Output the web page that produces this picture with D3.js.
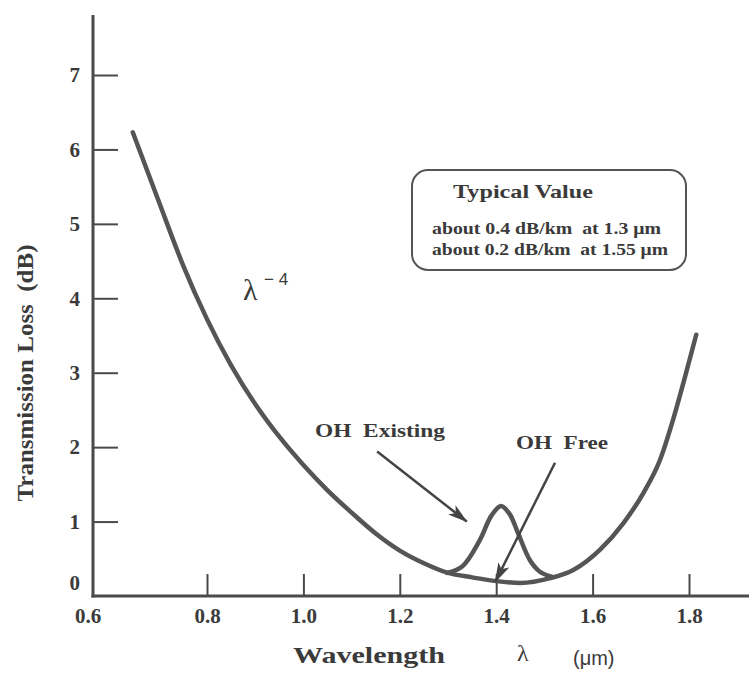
<!DOCTYPE html>
<html>
<head>
<meta charset="utf-8">
<script src="https://cdn.jsdelivr.net/npm/d3@7"></script>
<style>
  body { margin: 0; background: #fff; }
  text { font-family: "Liberation Serif", "DejaVu Serif", serif; fill: #3a3a3a; white-space: pre; }
  text.sans { font-family: "Liberation Sans", Arial, sans-serif; }
</style>
</head>
<body>
<script>
// OH free loss curve (wavelength in um, loss in dB)
const freeWl   = [0.646, 0.70, 0.75, 0.80, 0.85, 0.90, 0.95, 1.00, 1.05, 1.10, 1.15, 1.20, 1.25, 1.30, 1.35, 1.40, 1.45, 1.512, 1.560, 1.615, 1.664, 1.705, 1.740, 1.767, 1.792, 1.815];
const freeLoss = [6.23, 5.30, 4.45, 3.72, 3.10, 2.58, 2.14, 1.76, 1.42, 1.12, 0.84, 0.61, 0.44, 0.31, 0.25, 0.20, 0.175, 0.24, 0.35, 0.62, 0.98, 1.38, 1.83, 2.37, 2.95, 3.51];

// OH absorption peak (OH existing)
const peakWl   = [1.298, 1.330, 1.366, 1.390, 1.410, 1.428, 1.445, 1.470, 1.490, 1.515];
const peakLoss = [0.31, 0.40, 0.75, 1.08, 1.21, 1.10, 0.85, 0.48, 0.33, 0.26];

const xTicks = [0.8, 1.0, 1.2, 1.4, 1.6, 1.8];
const yTicks = [0, 1, 2, 3, 4, 5, 6, 7];

const boxTitle = "Typical Value";
const boxLines = ["about 0.4 dB/km  at 1.3 \u03bcm", "about 0.2 dB/km  at 1.55 \u03bcm"];

const W = 749, H = 673;
const ink = "#4a4a4a";

const svg = d3.select("body").append("svg")
  .attr("width", W).attr("height", H);

const x = d3.scaleLinear().domain([0.8, 1.8]).range([207, 689]);
const y = d3.scaleLinear().domain([0, 7]).range([596, 75]);
const axisX0 = 93;

// axis lines
svg.append("line").attr("x1", axisX0).attr("x2", axisX0).attr("y1", 15).attr("y2", y(0) + 1.5)
  .attr("stroke", ink).attr("stroke-width", 3);
svg.append("line").attr("x1", axisX0 - 1.5).attr("x2", W).attr("y1", y(0)).attr("y2", y(0))
  .attr("stroke", ink).attr("stroke-width", 3);

// y ticks
const yAxis = svg.append("g").attr("transform", `translate(${axisX0},0)`)
  .call(d3.axisLeft(y).tickValues(yTicks).tickSizeInner(-25).tickSizeOuter(0).tickPadding(13).tickFormat(d3.format("d")));
yAxis.select(".domain").remove();
yAxis.selectAll(".tick line").attr("stroke", ink).attr("stroke-width", 2)
  .attr("display", d => d === 0 ? "none" : null);
yAxis.selectAll(".tick text").attr("font-size", 21).attr("font-weight", "bold")
  .attr("fill", "#3a3a3a")
  .attr("dy", d => d === 0 ? "-0.3em" : "0.32em");

// x ticks
const xAxis = svg.append("g").attr("transform", `translate(0,${y(0)})`)
  .call(d3.axisBottom(x).tickValues(xTicks).tickSizeInner(-22).tickSizeOuter(0).tickPadding(12).tickFormat(d3.format(".1f")));
xAxis.select(".domain").remove();
xAxis.selectAll(".tick line").attr("stroke", ink).attr("stroke-width", 2);
xAxis.selectAll(".tick text").attr("font-size", 21).attr("font-weight", "bold")
  .attr("fill", "#3a3a3a");

svg.append("text").attr("x", 88).attr("y", y(0) + 12).attr("dy", "0.71em")
  .attr("text-anchor", "middle").attr("font-size", 21).attr("font-weight", "bold").text("0.6");

// axis titles
svg.append("text")
  .attr("transform", `translate(33,373) rotate(-90)`)
  .attr("text-anchor", "middle").attr("font-size", 23).attr("font-weight", "bold")
  .attr("textLength", 257).attr("lengthAdjust", "spacingAndGlyphs")
  .attr("fill", "#555")
  .text("Transmission Loss  (dB)");

svg.append("text").attr("x", 293).attr("y", 663)
  .attr("font-size", 24).attr("font-weight", "bold").attr("fill", "#555")
  .attr("textLength", 152).attr("lengthAdjust", "spacingAndGlyphs")
  .text("Wavelength");
svg.append("text").attr("x", 517).attr("y", 661).attr("font-size", 24).attr("fill", "#555").text("\u03bb");
svg.append("text").attr("class", "sans").attr("x", 573).attr("y", 665).attr("font-size", 20).attr("fill", "#555")
  .text("(\u03bcm)");

// curves
const smooth = d3.line().x(d => x(d[0])).y(d => y(d[1])).curve(d3.curveMonotoneX);
const peak = d3.line().x(d => x(d[0])).y(d => y(d[1])).curve(d3.curveCatmullRom.alpha(0.5));

svg.append("path").datum(d3.zip(freeWl, freeLoss))
  .attr("d", smooth).attr("fill", "none").attr("stroke", "#555").attr("stroke-width", 4.5)
  .attr("stroke-linecap", "round");
svg.append("path").datum(d3.zip(peakWl, peakLoss))
  .attr("d", peak).attr("fill", "none").attr("stroke", "#555").attr("stroke-width", 4.5)
  .attr("stroke-linecap", "round");

// arrowheads
svg.append("defs").append("marker")
  .attr("id", "arrow").attr("viewBox", "0 0 20 12").attr("refX", 19).attr("refY", 6)
  .attr("markerWidth", 20).attr("markerHeight", 12).attr("markerUnits", "userSpaceOnUse")
  .attr("orient", "auto")
  .append("path").attr("d", "M0,0 L20,6 L0,12 L5,6 Z").attr("fill", "#444");

// annotation arrows (wavelength, loss)
const arrows = [
  { from: [1.153, 1.94], to: [1.339, 1.00] },
  { from: [1.522, 1.79], to: [1.398, 0.19] }
];
svg.selectAll(".arrow").data(arrows).join("line")
  .attr("x1", d => x(d.from[0])).attr("y1", d => y(d.from[1]))
  .attr("x2", d => x(d.to[0])).attr("y2", d => y(d.to[1]))
  .attr("stroke", "#444").attr("stroke-width", 2.5)
  .attr("marker-end", "url(#arrow)");

svg.append("text").attr("x", 315).attr("y", 437).attr("font-size", 19).attr("font-weight", "bold")
  .attr("fill", "#444").attr("textLength", 130).attr("lengthAdjust", "spacingAndGlyphs").text("OH  Existing");
svg.append("text").attr("x", 516).attr("y", 449).attr("font-size", 19).attr("font-weight", "bold")
  .attr("fill", "#444").attr("textLength", 92).attr("lengthAdjust", "spacingAndGlyphs").text("OH  Free");

// lambda^-4
svg.append("text").attr("x", 243).attr("y", 300).attr("font-size", 30).attr("fill", "#444").text("\u03bb");
svg.append("text").attr("class", "sans").attr("x", 264).attr("y", 285).attr("font-size", 17).attr("fill", "#444")
  .text("\u2212 4");

// typical value box
svg.append("rect").attr("x", 412).attr("y", 170).attr("width", 274).attr("height", 100)
  .attr("rx", 16).attr("fill", "none").attr("stroke", "#555").attr("stroke-width", 2);
svg.append("text").attr("x", 453).attr("y", 198)
  .attr("font-size", 19).attr("font-weight", "bold").attr("fill", "#3a3a3a")
  .attr("textLength", 140).attr("lengthAdjust", "spacingAndGlyphs").text(boxTitle);
svg.selectAll(".boxline").data(boxLines).join("text")
  .attr("x", 432).attr("y", (d, i) => 234 + i * 21)
  .attr("font-size", 16).attr("font-weight", "bold").attr("fill", "#3a3a3a")
  .attr("textLength", (d, i) => i === 0 ? 229 : 236).attr("lengthAdjust", "spacingAndGlyphs")
  .text(d => d);
</script>
</body>
</html>
